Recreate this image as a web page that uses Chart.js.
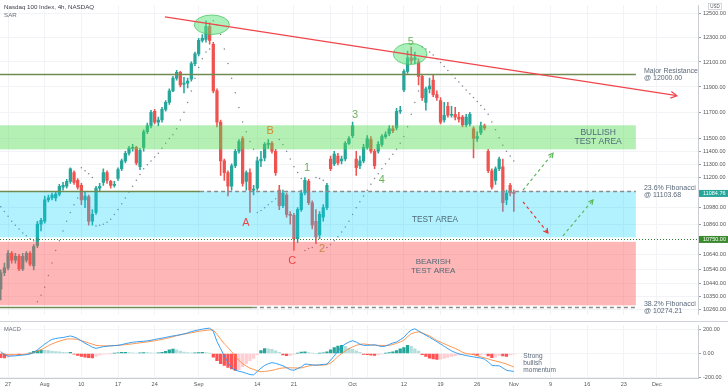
<!DOCTYPE html>
<html>
<head>
<meta charset="utf-8">
<script src="https://cdn.jsdelivr.net/npm/chart.js@4.4.1/dist/chart.umd.min.js"></script>
<style>
  html, body { margin: 0; padding: 0; background: #fff; }
  #wrap { position: relative; width: 728px; height: 391px; overflow: hidden; }
  #main { position: absolute; left: 0; top: 0; }
  #macd { position: absolute; left: 0; top: 320px; }
</style>
</head>
<body>
<div id="wrap">
  <canvas id="main" width="728" height="320"></canvas>
  <canvas id="macd" width="728" height="71"></canvas>
</div>
<script>
(function () {
  'use strict';

  // 4h candles, Jul 24 - Nov 2 (bar index = position on the time axis)
  var opens = [10399, 10514, 10548, 10651, 10603, 10630, 10541, 10603, 10651, 10562,
    10706, 10860, 10881, 11037, 11052, 11052, 11080, 11131, 11138, 11174,
    11240, 11182, 11145, 11037, 11059, 10881, 10945, 11124, 11167, 11240,
    11174, 11145, 11196, 11269, 11328, 11386, 11423, 11431, 11284, 11431,
    11550, 11595, 11709, 11625, 11641, 11724, 11778, 11869, 11970, 12016,
    11923, 11931, 11962, 12087, 12165, 12276, 12284, 12388, 12244, 11869,
    11625, 11328, 11240, 11138, 11291, 11401, 11498, 11174, 11240, 11109,
    11124, 11328, 11350, 11453, 11461, 11401, 11109, 10995, 11073, 10931,
    10924, 10755, 10966, 11088, 11174, 11016, 10881, 10783, 10910, 10980,
    11342, 11306, 11364, 11328, 11342, 11461, 11520, 11342, 11291, 11328,
    11431, 11490, 11401, 11401, 11453, 11513, 11535, 11573, 11580, 11709,
    11877, 12024, 12134, 12118, 12102, 11985, 11778, 11885, 11954, 11839,
    11793, 11641, 11747, 11678, 11686, 11663, 11663, 11603, 11610, 11573,
    11498, 11543, 11595, 11401, 11254, 11182, 11269, 11284, 11037, 11145,
    11088];
  var highs = [10534, 10582, 10671, 10664, 10651, 10644, 10651, 10664, 10664, 10713,
    10881, 10903, 11066, 11073, 11088, 11095, 11152, 11167, 11189, 11276,
    11254, 11196, 11160, 11095, 11073, 10966, 11138, 11160, 11269, 11254,
    11182, 11174, 11276, 11342, 11401, 11438, 11453, 11438, 11423, 11565,
    11618, 11717, 11724, 11663, 11739, 11793, 11885, 11985, 12032, 12024,
    11977, 11970, 12102, 12181, 12292, 12324, 12437, 12421, 12260, 11885,
    11641, 11342, 11254, 11306, 11416, 11490, 11513, 11254, 11269, 11145,
    11357, 11401, 11468, 11490, 11475, 11416, 11145, 11109, 11088, 10952,
    10938, 10980, 11109, 11203, 11189, 11030, 10966, 10952, 11002, 11160,
    11364, 11401, 11386, 11364, 11475, 11513, 11625, 11401, 11364, 11453,
    11520, 11513, 11416, 11475, 11528, 11550, 11595, 11595, 11732, 11747,
    12039, 12189, 12221, 12181, 12126, 11993, 11900, 11970, 11993, 11869,
    11816, 11778, 11778, 11747, 11739, 11701, 11678, 11686, 11701, 11588,
    11550, 11625, 11610, 11416, 11269, 11284, 11357, 11342, 11109, 11160,
    11109];
  var lows = [10325, 10494, 10534, 10582, 10582, 10528, 10528, 10589, 10562, 10534,
    10692, 10811, 10867, 11023, 11037, 11030, 11066, 11109, 11124, 11160,
    11152, 11116, 11002, 10980, 10853, 10853, 10931, 11102, 11145, 11160,
    11124, 11131, 11182, 11254, 11313, 11372, 11401, 11298, 11262, 11401,
    11535, 11580, 11610, 11595, 11625, 11709, 11762, 11862, 11954, 11900,
    11854, 11893, 11946, 12071, 12149, 12260, 12260, 12244, 11854, 11588,
    11218, 11182, 11066, 11109, 11276, 11386, 11138, 11109, 10945, 11073,
    11109, 11284, 11328, 11423, 11386, 11218, 10966, 10980, 10910, 10860,
    10671, 10727, 10952, 11073, 11002, 10825, 10720, 10755, 10881, 10966,
    11254, 11291, 11298, 11306, 11328, 11453, 11505, 11218, 11269, 11313,
    11416, 11386, 11269, 11386, 11438, 11498, 11520, 11543, 11565, 11693,
    11862, 12008, 12087, 12087, 11916, 11793, 11717, 11854, 11823, 11793,
    11610, 11625, 11663, 11663, 11641, 11625, 11588, 11588, 11595, 11350,
    11475, 11528, 11565, 11240, 11116, 11152, 11254, 10952, 11002, 11066,
    10952];
  var closes = [10514, 10548, 10651, 10603, 10630, 10541, 10630, 10651, 10575, 10699,
    10860, 10888, 11037, 11052, 11073, 11080, 11138, 11145, 11174, 11269,
    11167, 11131, 11037, 11066, 10881, 10931, 11124, 11138, 11240, 11182,
    11145, 11152, 11262, 11328, 11386, 11423, 11431, 11313, 11408, 11550,
    11595, 11701, 11625, 11641, 11724, 11778, 11869, 11970, 12016, 11916,
    11931, 11946, 12087, 12165, 12276, 12292, 12388, 12276, 11869, 11625,
    11328, 11240, 11138, 11291, 11401, 11475, 11160, 11240, 11109, 11116,
    11328, 11342, 11453, 11461, 11401, 11240, 10995, 11088, 10931, 10924,
    10755, 10966, 11088, 11182, 11016, 10853, 10769, 10931, 10980, 11145,
    11269, 11379, 11313, 11342, 11461, 11498, 11595, 11276, 11328, 11431,
    11498, 11401, 11291, 11453, 11513, 11528, 11573, 11558, 11709, 11717,
    12024, 12134, 12110, 12134, 11985, 11816, 11885, 11908, 11839, 11816,
    11625, 11678, 11678, 11686, 11663, 11648, 11603, 11663, 11686, 11498,
    11513, 11595, 11580, 11254, 11131, 11269, 11342, 11016, 11088, 11088,
    11084.76];
  var sar = [10987, 10952, 10917, 10881, 10853, 10825, 10797, 10776, 10755, 10741,
    10312, 10358, 10412, 10494, 10582, 10671, 10741, 10811, 10881, 10945,
    11002, 11052, 11276, 11254, 11232, 11203, 10846, 10853, 10860, 10874,
    10895, 10931, 10966, 11009, 11052, 11095, 11138, 11182, 11225, 11269,
    11298, 11328, 11357, 11386, 11423, 11461, 11498, 11528, 11573, 11641,
    11701, 11778, 11869, 11970, 12055, 12126, 12181, 12205, 12437, 12404,
    12324, 12205, 12087, 11970, 11854, 11739, 11625, 11550, 11475, 11416,
    10945, 10959, 10980, 11002, 11023, 11045, 11490, 11453, 11401, 11342,
    11284, 11240, 11196, 10671, 10685, 10692, 11203, 11196, 11182, 10692,
    10713, 10741, 10769, 10804, 10839, 10881, 10931, 10980, 11023, 11066,
    11109, 11152, 11196, 11232, 11269, 11306, 11342, 11379, 11416, 11461,
    11513, 11588, 11686, 11778, 11869, 12221, 12205, 12181, 12157, 12126,
    12095, 12063, 12032, 12000, 11970, 11939, 11908, 11877, 11846, 11816,
    11785, 11755, 11724, 11686, 11625, 11565, 11505, 11446, 11401, 11364,
    11328];
  var macdLine = [16, -10, -22, -21, -19, -16, -13, -10, -4, 8,
    30, 55, 78, 100, 118, 125, 130, 133, 140, 146,
    138, 125, 105, 85, 70, 52, 43, 50, 57, 61,
    64, 66, 68, 74, 82, 88, 94, 97, 100, 102,
    106, 110, 117, 123, 128, 134, 141, 146, 151, 157,
    163, 172, 182, 190, 197, 203, 208, 211, 185, 100,
    40, -20, -75, -120, -138, -148, -155, -165, -175, -178,
    -150, -122, -100, -85, -76, -82, -92, -102, -118, -135,
    -140, -125, -112, -88, -90, -95, -97, -94, -91, -88,
    -55, -20, 20, 55, 80, 95, 107, 95, 78, 68,
    68, 70, 73, 65, 57, 62, 75, 88, 96, 115,
    135, 170, 195, 206, 188, 170, 152, 135, 117, 98,
    80, 60, 40, 22, 8, -3, -10, -17, -23, -28,
    -33, -38, -47, -70, -98, -102, -102, -120, -140, -145,
    -149];
  var signalLine = [3, -6, -10, -10, -10, -10, -8, -4, 0, 8,
    20, 32, 48, 65, 80, 92, 103, 112, 120, 122,
    121, 117, 107, 97, 88, 78, 68, 65, 64, 63,
    64, 66, 68, 71, 74, 77, 81, 85, 89, 93,
    97, 101, 106, 112, 118, 124, 132, 140, 148, 155,
    162, 167, 173, 179, 185, 189, 193, 197, 196, 160,
    120, 80, 50, 15, -25, -58, -85, -105, -122, -132,
    -145, -152, -150, -145, -141, -133, -125, -120, -119, -119,
    -120, -121, -120, -112, -104, -98, -97, -97, -97, -92,
    -80, -55, -25, 0, 20, 40, 55, 68, 76, 80,
    76, 72, 69, 68, 67, 67, 68, 75, 85, 97,
    110, 140, 165, 175, 180, 172, 158, 146, 128, 108,
    95, 81, 68, 55, 42, 28, 10, 0, -5, -9,
    -18, -28, -36, -45, -55, -62, -70, -78, -88, -100,
    -112];
  var histogram = [-35, -37, -30, -20, -10, -10, -6, -2, 5, 18,
    25, 29, 27, 24, 20, 17, 14, 10, 8, 9,
    -5, -15, -25, -30, -35, -37, -25, -12, -6, -3,
    -1, 2, 6, 9, 10, 8, 6, 4, 5, 8,
    7, 5, 4, 6, 10, 18, 30, 37, 30, 20,
    12, 8, 5, 6, 8, 9, 7, 3, -30, -60,
    -85, -100, -115, -128, -141, -135, -110, -85, -60, -40,
    -10, 25, 42, 40, 35, 22, 10, -12, -18, -15,
    -8, 2, 12, 15, 8, 3, 0, 3, 6, 15,
    30, 50, 62, 68, 60, 45, 35, 22, 10, -8,
    -10, -14, -15, -10, -5, 2, 8, 15, 25, 38,
    50, 68, 60, 40, 20, -10, -25, -38, -45, -50,
    -48, -40, -32, -25, -18, -12, -8, -5, -3, -8,
    -15, -12, -5, -20, -35, -30, -15, -20, -25, -10,
    -5];

  // time axis: bar index of each labelled date, plus unlabelled weekly grid lines
  var dateTicks = [2, 12, 22, 32, 42, 54, 70, 80, 96, 110, 120, 130, 140, 150, 160, 170, 179];
  var dateLabels = ['27', 'Aug', '10', '17', '24', 'Sep', '14', '21', 'Oct', '12', '19', '26', 'Nov', '9', '16', '23', 'Dec'];
  var extraGrid = [90, 100];
  var priceTicks = [12500, 12300, 12100, 11900, 11700, 11500, 11400, 11300, 11200, 10980, 10860, 10640, 10540, 10440, 10350, 10260];
  var macdTicks = [200, 0, -200];

  var FONT = "'Liberation Sans', Arial, sans-serif";
  var GRID = '#f1f3f6';
  var TEXT = '#5a6878';
  Chart.defaults.font.family = FONT;

  var xMin = -0.2;
  var xMax = 190.25;
  var zoneEnd = 173.3;
  var labelX = 175.5;
  var gridTicks = dateTicks.concat(extraGrid).sort(function (a, b) { return a - b; });

  var zones = [
    {top: 11600, bottom: 11415, color: 'rgba(76,218,76,0.42)'},
    {top: 11101, bottom: 10765, color: 'rgba(0,212,255,0.30)'},
    {top: 10733, bottom: 10288, color: 'rgba(255,82,82,0.42)'}
  ];
  var zoneTexts = [
    {x: 163, y: 11508, size: 8.5, lines: ['BULLISH', 'TEST AREA']},
    {x: 118.5, y: 10895, size: 8.3, lines: ['TEST AREA']},
    {x: 118, y: 10558, size: 8, lines: ['BEARISH', 'TEST AREA']}
  ];
  var levels = [
    {value: 12000, solidTo: zoneEnd, text: ['Major Resistance', '@ 12000.00']},
    {value: 11103.68, solidTo: 54.4, text: ['23.6% Fibonacci', '@ 11103.68']},
    {value: 10274.21, solidTo: 68.8, text: ['38.2% Fibonacci', '@ 10274.21']}
  ];
  var waves = [
    {t: 'A', x: 66.9, y: 10868, c: '#e8474a'},
    {t: 'B', x: 73.5, y: 11558, c: '#cf8a2c'},
    {t: 'C', x: 79.5, y: 10596, c: '#e8474a'},
    {t: '1', x: 83.6, y: 11276, c: '#6fb35c'},
    {t: '2', x: 87.7, y: 10685, c: '#c08a45'},
    {t: '3', x: 96.7, y: 11678, c: '#6fb35c'},
    {t: '4', x: 104, y: 11182, c: '#6fb35c'},
    {t: '5', x: 111.9, y: 12260, c: '#6fb35c'}
  ];
  var ellipses = [
    {x0: 52.8, x1: 62.4, top: 12485, bottom: 12324},
    {x0: 107.1, x1: 116.3, top: 12252, bottom: 12079}
  ];
  var trend = {x0: 44.8, y0: 12469, x1: 184.5, y1: 11831};
  var projections = [
    {x0: 142.5, y0: 11109, x1: 150.7, y1: 11386, c: '#5cb85c'},
    {x0: 142.5, y0: 11023, x1: 149.3, y1: 10797, c: '#e53935'},
    {x0: 153.4, y0: 10776, x1: 161.6, y1: 11037, c: '#5cb85c'}
  ];
  var axisBadges = [
    {value: 11084.76, bg: '#26a69a'},
    {value: 10750, bg: '#3b8a2e'}
  ];

  function candleColor(i) {
    return closes[i] >= opens[i] ? '#26a69a' : '#ef5350';
  }

  function arrowHead(ctx, x0, y0, x1, y1, size) {
    var a = Math.atan2(y1 - y0, x1 - x0);
    ctx.setLineDash([]);
    ctx.beginPath();
    ctx.moveTo(x1 - size * Math.cos(a - 0.5), y1 - size * Math.sin(a - 0.5));
    ctx.lineTo(x1, y1);
    ctx.lineTo(x1 - size * Math.cos(a + 0.5), y1 - size * Math.sin(a + 0.5));
    ctx.stroke();
  }

  var overlay = {
    id: 'overlay',
    afterDatasetsDraw: function (chart) {
      var ctx = chart.ctx;
      var area = chart.chartArea;
      var X = function (v) { return chart.scales.x.getPixelForValue(v); };
      var Y = function (v) { return chart.scales.y.getPixelForValue(v); };
      ctx.save();
      ctx.beginPath();
      ctx.rect(area.left, area.top, area.right - area.left, area.bottom - area.top);
      ctx.clip();

      zones.forEach(function (z) {
        ctx.fillStyle = z.color;
        ctx.fillRect(X(xMin - 1), Y(z.top), X(zoneEnd) - X(xMin - 1), Y(z.bottom) - Y(z.top));
      });

      // horizontal levels
      levels.forEach(function (l) {
        var y = Math.round(Y(l.value)) + 0.5;
        ctx.strokeStyle = '#6f8a52';
        ctx.lineWidth = 1.3;
        ctx.setLineDash([]);
        ctx.beginPath();
        ctx.moveTo(X(xMin - 1), y);
        ctx.lineTo(X(l.solidTo), y);
        ctx.stroke();
        if (l.solidTo < zoneEnd) {
          ctx.strokeStyle = '#8b8b8b';
          ctx.setLineDash([4, 3]);
          ctx.beginPath();
          ctx.moveTo(X(l.solidTo), y);
          ctx.lineTo(X(zoneEnd), y);
          ctx.stroke();
        }
        ctx.setLineDash([]);
        ctx.fillStyle = TEXT;
        ctx.font = '7px ' + FONT;
        ctx.textAlign = 'left';
        ctx.textBaseline = 'middle';
        ctx.fillText(l.text[0], X(labelX), y - 3.5);
        ctx.fillText(l.text[1], X(labelX), y + 3.5);
      });

      var y750 = Math.round(Y(10750)) + 0.5;
      ctx.strokeStyle = '#2e7d32';
      ctx.lineWidth = 1;
      ctx.setLineDash([1, 2]);
      ctx.beginPath();
      ctx.moveTo(area.left, y750);
      ctx.lineTo(area.right, y750);
      ctx.stroke();
      ctx.setLineDash([]);

      zoneTexts.forEach(function (t) {
        ctx.fillStyle = '#4f6a78';
        ctx.font = t.size + 'px ' + FONT;
        ctx.textAlign = 'center';
        ctx.textBaseline = 'middle';
        var y = Y(t.y) - (t.lines.length - 1) * 4.5;
        t.lines.forEach(function (s, k) { ctx.fillText(s, X(t.x), y + k * 9); });
      });

      ellipses.forEach(function (e) {
        var cx = (X(e.x0) + X(e.x1)) / 2;
        var cy = (Y(e.top) + Y(e.bottom)) / 2;
        ctx.beginPath();
        ctx.ellipse(cx, cy, (X(e.x1) - X(e.x0)) / 2, (Y(e.bottom) - Y(e.top)) / 2, 0, 0, Math.PI * 2);
        ctx.fillStyle = 'rgba(90,225,120,0.5)';
        ctx.fill();
        ctx.strokeStyle = 'rgba(70,195,95,0.9)';
        ctx.lineWidth = 0.8;
        ctx.stroke();
      });

      ctx.strokeStyle = '#f0464b';
      ctx.lineWidth = 1.2;
      ctx.beginPath();
      ctx.moveTo(X(trend.x0), Y(trend.y0));
      ctx.lineTo(X(trend.x1), Y(trend.y1));
      ctx.stroke();
      arrowHead(ctx, X(trend.x0), Y(trend.y0), X(trend.x1), Y(trend.y1), 7);

      projections.forEach(function (p) {
        ctx.strokeStyle = p.c;
        ctx.lineWidth = 1.2;
        ctx.setLineDash([3, 3]);
        ctx.beginPath();
        ctx.moveTo(X(p.x0), Y(p.y0));
        ctx.lineTo(X(p.x1), Y(p.y1));
        ctx.stroke();
        arrowHead(ctx, X(p.x0), Y(p.y0), X(p.x1), Y(p.y1), 5);
      });

      waves.forEach(function (w) {
        ctx.fillStyle = w.c;
        ctx.font = '11px ' + FONT;
        ctx.textAlign = 'center';
        ctx.textBaseline = 'middle';
        ctx.fillText(w.t, X(w.x), Y(w.y));
      });
      ctx.restore();
    },
    afterDraw: function (chart) {
      var ctx = chart.ctx;
      var area = chart.chartArea;
      var Y = function (v) { return chart.scales.y.getPixelForValue(v); };
      ctx.save();
      axisBadges.forEach(function (b) {
        var y = Y(b.value);
        ctx.fillStyle = b.bg;
        ctx.fillRect(area.right + 1, y - 3.5, 30, 7);
        ctx.fillStyle = '#fff';
        ctx.font = '5.5px ' + FONT;
        ctx.textAlign = 'left';
        ctx.textBaseline = 'middle';
        ctx.fillText(b.value.toFixed(2), area.right + 5, y);
      });
      ctx.fillStyle = '#fff';
      ctx.fillRect(708.5, 3.5, 13, 6);
      ctx.strokeStyle = '#b8bcc4';
      ctx.lineWidth = 0.6;
      ctx.strokeRect(708.5, 3.5, 13, 6);
      ctx.fillStyle = '#555';
      ctx.font = '4.5px ' + FONT;
      ctx.textAlign = 'center';
      ctx.textBaseline = 'middle';
      ctx.fillText('USD', 715, 6.6);

      ctx.textAlign = 'left';
      ctx.fillStyle = '#3a3e47';
      ctx.font = '6.2px ' + FONT;
      ctx.fillText('Nasdaq 100 Index, 4h, NASDAQ', 4, 7);
      ctx.fillStyle = '#6a6e77';
      ctx.fillText('SAR', 4, 15);
      ctx.restore();
    }
  };

  var mainChart = new Chart(document.getElementById('main').getContext('2d'), {
    type: 'scatter',
    data: {
      datasets: [{
        type: 'bar',
        data: opens.map(function (o, i) { return {x: i, y: [o, closes[i]]}; }),
        backgroundColor: opens.map(function (o, i) { return candleColor(i); }),
        barThickness: 2.6,
        minBarLength: 1,
        grouped: false
      }, {
        type: 'bar',
        data: lows.map(function (l, i) { return {x: i, y: [l, highs[i]]}; }),
        backgroundColor: opens.map(function (o, i) { return candleColor(i); }),
        barThickness: 0.9,
        grouped: false
      }, {
        type: 'scatter',
        data: sar.map(function (v, i) { return {x: i, y: v}; }),
        pointRadius: 0.75,
        pointBackgroundColor: '#7d8087',
        pointBorderWidth: 0
      }]
    },
    options: {
      responsive: false,
      animation: false,
      events: [],
      layout: {padding: 0, autoPadding: false},
      plugins: {legend: {display: false}, tooltip: {enabled: false}},
      scales: {
        x: {
          type: 'linear', min: xMin, max: xMax, offset: false,
          afterBuildTicks: function (s) { s.ticks = gridTicks.map(function (v) { return {value: v}; }); },
          afterFit: function (s) { s.height = 2; },
          ticks: {display: false},
          grid: {color: GRID, drawTicks: false, offset: false},
          border: {display: false}
        },
        y: {
          type: 'logarithmic', position: 'right', min: 10224, max: 12566, bounds: 'data',
          afterBuildTicks: function (s) { s.ticks = priceTicks.map(function (v) { return {value: v}; }); },
          afterFit: function (s) { s.width = 30; },
          ticks: {
            autoSkip: false, padding: 2, color: '#555',
            font: {size: 5.5},
            callback: function (v) { return Number(v).toFixed(2); }
          },
          grid: {color: GRID, tickColor: '#9a9da5', tickLength: 3},
          border: {color: '#c9ccd3'}
        }
      }
    },
    plugins: [overlay]
  });

  var histColors = histogram.map(function (h, i) {
    var prev = i > 0 ? histogram[i - 1] : h;
    if (h >= 0) {
      return h >= prev ? '#26a69a' : '#b2dfdb';
    }
    return h <= prev ? '#ff5252' : '#ffcdd2';
  });

  var macdDecor = {
    id: 'macdDecor',
    afterDraw: function (chart) {
      var ctx = chart.ctx;
      var X = function (v) { return chart.scales.x.getPixelForValue(v); };
      var Y = function (v) { return chart.scales.y.getPixelForValue(v); };
      ctx.save();
      ctx.fillStyle = '#cfd2d8';
      ctx.fillRect(0, 1, 728, 1);
      ctx.fillStyle = '#6a6e77';
      ctx.font = '5.7px ' + FONT;
      ctx.textAlign = 'left';
      ctx.textBaseline = 'middle';
      ctx.fillText('MACD', 4, 9);
      ctx.fillStyle = TEXT;
      ctx.font = '6.5px ' + FONT;
      var y = Y(-23);
      ['Strong', 'bullish', 'momentum'].forEach(function (s, k) { ctx.fillText(s, X(142.6), y + k * 7); });
      ctx.restore();
    }
  };

  var macdChart = new Chart(document.getElementById('macd').getContext('2d'), {
    type: 'scatter',
    data: {
      datasets: [{
        type: 'line',
        data: macdLine.map(function (v, i) { return {x: i, y: v}; }),
        borderColor: '#2196f3',
        borderWidth: 0.9,
        pointRadius: 0,
        tension: 0
      }, {
        type: 'line',
        data: signalLine.map(function (v, i) { return {x: i, y: v}; }),
        borderColor: '#ff8a3d',
        borderWidth: 0.9,
        pointRadius: 0,
        tension: 0
      }, {
        type: 'bar',
        data: histogram.map(function (v, i) { return {x: i, y: v}; }),
        backgroundColor: histColors,
        barThickness: 2.6,
        grouped: false
      }]
    },
    options: {
      responsive: false,
      animation: false,
      events: [],
      layout: {padding: {top: 2}, autoPadding: false},
      plugins: {legend: {display: false}, tooltip: {enabled: false}},
      scales: {
        x: {
          type: 'linear', min: xMin, max: xMax, offset: false,
          afterBuildTicks: function (s) { s.ticks = gridTicks.map(function (v) { return {value: v}; }); },
          afterFit: function (s) { s.height = 13; },
          ticks: {
            autoSkip: false, maxRotation: 0, padding: 3, color: '#555',
            font: {size: 5.5},
            callback: function (v) {
              var k = dateTicks.indexOf(v);
              return k >= 0 ? dateLabels[k] : '';
            }
          },
          grid: {color: GRID, drawTicks: false, offset: false},
          border: {color: '#c9ccd3'}
        },
        y: {
          type: 'linear', position: 'right', min: -204, max: 235,
          afterBuildTicks: function (s) { s.ticks = macdTicks.map(function (v) { return {value: v}; }); },
          afterFit: function (s) { s.width = 30; },
          ticks: {
            autoSkip: false, padding: 2, color: '#555',
            font: {size: 5.5},
            callback: function (v) { return Number(v).toFixed(2); }
          },
          grid: {color: GRID, tickColor: '#9a9da5', tickLength: 3},
          border: {color: '#c9ccd3'}
        }
      }
    },
    plugins: [macdDecor]
  });
}());
</script>
</body>
</html>
